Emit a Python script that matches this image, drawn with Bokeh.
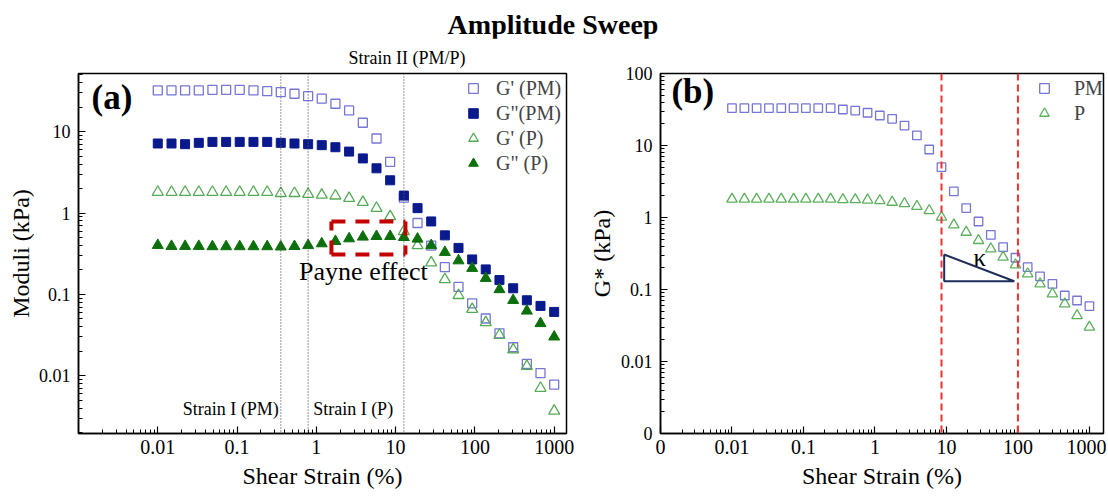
from bokeh.plotting import figure
from bokeh.models import (Range1d, FixedTicker, Span, Label, Legend, LegendItem, Div)
from bokeh.layouts import row, column
from bokeh.embed import file_html
from bokeh.resources import INLINE

# ---------------- data ----------------
strain = [0.01, 0.0149, 0.0221, 0.0329, 0.0489, 0.0728, 0.108, 0.161, 0.240, 0.356,
          0.530, 0.788, 1.17, 1.74, 2.59, 3.86, 5.74, 8.53, 12.7, 18.9,
          28.1, 41.8, 62.1, 92.4, 137, 204, 304, 452, 672, 1000]

g1_pm = [32.2, 32.2, 32.2, 32.2, 32.8, 32.8, 32.8, 32.2, 31.5, 30.7,
         29.3, 27.4, 25.5, 22.1, 18.3, 12.9, 8.26, 4.27, 1.55, 0.755,
         0.398, 0.216, 0.124, 0.0778, 0.0506, 0.0332, 0.0224, 0.0140, 0.0108, 0.0078]
g2_pm = [7.17, 7.17, 7.03, 7.30, 7.50, 7.50, 7.50, 7.50, 7.50, 7.30,
         7.17, 7.03, 6.84, 6.45, 5.70, 4.70, 3.55, 2.53, 1.64, 1.15,
         0.789, 0.532, 0.373, 0.269, 0.203, 0.150, 0.119, 0.0847, 0.0722, 0.0609]
g1_p = [1.81, 1.81, 1.81, 1.81, 1.81, 1.81, 1.81, 1.81, 1.81, 1.75,
        1.75, 1.71, 1.67, 1.63, 1.52, 1.36, 1.15, 0.91, 0.596, 0.40,
        0.245, 0.153, 0.0975, 0.0658, 0.0452, 0.0316, 0.0209, 0.0131, 0.00705, 0.00369]
g2_p = [0.402, 0.391, 0.391, 0.391, 0.388, 0.388, 0.388, 0.388, 0.388, 0.385,
        0.39, 0.40, 0.421, 0.45, 0.485, 0.509, 0.518, 0.518, 0.503, 0.481,
        0.40, 0.330, 0.260, 0.210, 0.158, 0.115, 0.0847, 0.0627, 0.044, 0.0301]

gstar_pm = [33.0, 33.0, 33.0, 33.0, 33.0, 33.0, 33.0, 33.0, 33.0, 31.6,
            30.6, 28.5, 26.1, 23.5, 18.9, 13.8, 8.8, 5.0, 2.30, 1.35,
            0.88, 0.575, 0.387, 0.276, 0.204, 0.152, 0.120, 0.0826, 0.0703, 0.0586]
gstar_p = [1.80, 1.80, 1.80, 1.80, 1.80, 1.80, 1.80, 1.80, 1.80, 1.77,
           1.77, 1.75, 1.72, 1.63, 1.56, 1.43, 1.25, 1.01, 0.79, 0.625,
           0.48, 0.367, 0.281, 0.22, 0.165, 0.12, 0.087, 0.0633, 0.0435, 0.030]

strain_limits = [0.356, 0.788, 12.7]          # Strain I (PM), Strain I (P), Strain II
payne_x = [1.55, 13.3]
payne_y = [0.309, 0.79]
red_lines = [8.53, 100]
kappa_x = [9.3, 89]
kappa_y = [0.130, 0.306]

x_ticks_a = [0.01, 0.1, 1, 10, 100, 1000]
x_labels_a = ["0.01", "0.1", "1", "10", "100", "1000"]
y_ticks_a = [0.01, 0.1, 1, 10]
y_labels_a = ["0.01", "0.1", "1", "10"]
x_ticks_b = [0.001, 0.01, 0.1, 1, 10, 100, 1000]
x_labels_b = ["0", "0.01", "0.1", "1", "10", "100", "1000"]
y_ticks_b = [0.001, 0.01, 0.1, 1, 10, 100]
y_labels_b = ["0", "0.01", "0.1", "1", "10", "100"]

SERIF = "Liberation Serif"
C_PM_OPEN = "#7676D6"
C_PM_FILL = "#0A1A8C"
C_P_OPEN = "#55AA55"
C_P_FILL = "#0B700B"

minor = [m * 10.0 ** d for d in range(-4, 4) for m in range(2, 10)]


def style_axes(p, xt, xl, yt, yl, ylabel):
    p.xgrid.visible = False
    p.ygrid.visible = False
    p.outline_line_color = "black"
    p.outline_line_width = 1.5
    p.xaxis.ticker = FixedTicker(ticks=xt, minor_ticks=minor)
    p.yaxis.ticker = FixedTicker(ticks=yt, minor_ticks=minor)
    p.xaxis.major_label_overrides = {t: l for t, l in zip(xt, xl)}
    p.yaxis.major_label_overrides = {t: l for t, l in zip(yt, yl)}
    for ax in (p.xaxis[0], p.yaxis[0]):
        ax.axis_line_color = "black"
        ax.axis_line_width = 1.5
        ax.major_tick_in = 7
        ax.major_tick_out = 0
        ax.minor_tick_in = 4
        ax.minor_tick_out = 0
        ax.major_tick_line_color = "black"
        ax.minor_tick_line_color = "black"
        ax.major_tick_line_width = 1.2
        ax.minor_tick_line_width = 1.0
        ax.major_label_text_font = SERIF
        ax.major_label_text_color = "black"
        ax.axis_label_text_font = SERIF
        ax.axis_label_text_font_size = "24px"
        ax.axis_label_text_font_style = "normal"
        ax.axis_label_text_color = "black"
    p.xaxis.major_label_text_font_size = "20px"
    p.yaxis.major_label_text_font_size = "18px"
    p.xaxis.axis_label = "Shear Strain (%)"
    p.yaxis.axis_label = ylabel
    p.xaxis.major_label_standoff = 6
    p.xaxis.axis_label_standoff = 6


# ---------------- panel (a) ----------------
p1 = figure(width=585, height=458, x_axis_type="log", y_axis_type="log",
            x_range=Range1d(0.001, 1430), y_range=Range1d(0.00195, 52),
            output_backend="svg", toolbar_location=None,
            min_border_left=78, min_border_right=19, min_border_top=35, min_border_bottom=63)
style_axes(p1, x_ticks_a, x_labels_a, y_ticks_a, y_labels_a, "Moduli (kPa)")
p1.yaxis.major_label_standoff = 8
p1.yaxis.axis_label_standoff = 2

p1.title.text = "Strain II (PM/P)"
p1.title.align = "left"
p1.title.offset = 270
p1.title.text_font = SERIF
p1.title.text_font_size = "18px"
p1.title.text_font_style = "normal"
p1.title.text_color = "black"
p1.title.standoff = 12

for xv in strain_limits:
    p1.add_layout(Span(location=xv, dimension="height", line_color="#555555",
                       line_dash="1 2", line_width=1.2))

r1 = p1.scatter(strain, g1_pm, marker="square", size=9, fill_color=None,
                line_color=C_PM_OPEN, line_width=1.3)
r2 = p1.scatter(strain, g2_pm, marker="square", size=9, fill_color=C_PM_FILL,
                line_color=C_PM_FILL)
r3 = p1.scatter(strain, g1_p, marker="triangle", size=11, fill_color=None,
                line_color=C_P_OPEN, line_width=1.3)
r4 = p1.scatter(strain, g2_p, marker="triangle", size=11, fill_color=C_P_FILL,
                line_color=C_P_FILL)

# Payne-effect box: each side drawn separately so every corner starts with a dash
x0, x1 = payne_x
y0, y1 = payne_y
p1.multi_line(xs=[[x0, x1], [x1, x1], [x0, x1], [x0, x0]],
              ys=[[y1, y1], [y1, y0], [y0, y0], [y0, y1]],
              line_color="#C40000", line_width=4, line_dash="14 10")

p1.add_layout(Label(x=3.93, y=0.191, text="Payne effect", text_font=SERIF,
                    text_font_size="26px", text_align="center", text_baseline="middle",
                    text_color="black"))
p1.add_layout(Label(x=strain_limits[0], y=0.00395, x_offset=-2, text="Strain I (PM)",
                    text_font=SERIF, text_font_size="18px", text_align="right",
                    text_baseline="middle", text_color="black"))
p1.add_layout(Label(x=strain_limits[1], y=0.00395, x_offset=5, text="Strain I (P)",
                    text_font=SERIF, text_font_size="18px", text_align="left",
                    text_baseline="middle", text_color="black"))
p1.add_layout(Label(x=0.00146, y=26.0, text="(a)", text_font=SERIF,
                    text_font_size="35px", text_font_style="bold", text_align="left",
                    text_baseline="middle", text_color="black"))

leg1 = Legend(items=[LegendItem(label="G' (PM)", renderers=[r1]),
                     LegendItem(label='G"(PM)', renderers=[r2]),
                     LegendItem(label="G' (P)", renderers=[r3]),
                     LegendItem(label='G" (P)', renderers=[r4])],
              location=(383, 258), glyph_width=24, glyph_height=24, label_height=24,
              spacing=1, padding=0, margin=0, label_standoff=11,
              label_text_font=SERIF, label_text_font_size="20px",
              background_fill_alpha=0, border_line_alpha=0)
p1.add_layout(leg1)

# ---------------- panel (b) ----------------
p2 = figure(width=521, height=458, x_axis_type="log", y_axis_type="log",
            x_range=Range1d(0.001, 1575), y_range=Range1d(0.001, 100),
            output_backend="svg", toolbar_location=None,
            min_border_left=72, min_border_right=3, min_border_top=35, min_border_bottom=63)
style_axes(p2, x_ticks_b, x_labels_b, y_ticks_b, y_labels_b, "G* (kPa)")
p2.yaxis.major_label_standoff = 8
p2.yaxis.axis_label_standoff = 3

for xv in red_lines:
    p2.add_layout(Span(location=xv, dimension="height", line_color="#F03030",
                       line_dash="7 4", line_width=2))

q1 = p2.scatter(strain, gstar_pm, marker="square", size=8.5, fill_color=None,
                line_color=C_PM_OPEN, line_width=1.3)
q2 = p2.scatter(strain, gstar_p, marker="triangle", size=10.5, fill_color=None,
                line_color="#5CB05C", line_width=1.3)

p2.line([kappa_x[0], kappa_x[0], kappa_x[1], kappa_x[0]],
        [kappa_y[1], kappa_y[0], kappa_y[0], kappa_y[1]],
        line_color="#1F2D5C", line_width=2)
p2.add_layout(Label(x=29.4, y=0.274, text="κ", text_font=SERIF, text_font_size="25px",
                    text_align="center", text_baseline="middle", text_color="black"))
p2.add_layout(Label(x=0.00142, y=56, text="(b)", text_font=SERIF,
                    text_font_size="35px", text_font_style="bold", text_align="left",
                    text_baseline="middle", text_color="black"))

leg2 = Legend(items=[LegendItem(label="PM", renderers=[q1]),
                     LegendItem(label="P", renderers=[q2])],
              location=(372, 308), glyph_width=24, glyph_height=24, label_height=24,
              spacing=1, padding=0, margin=0, label_standoff=18,
              label_text_font=SERIF, label_text_font_size="20px",
              background_fill_alpha=0, border_line_alpha=0)
p2.add_layout(leg2)

title = Div(text='<div style="width:1096px;padding-left:10px;text-align:center;'
                 'font-family:\'Liberation Serif\';font-weight:bold;font-size:28px;'
                 'line-height:26px;padding-top:12px;color:black;">Amplitude Sweep</div>',
            width=1106, height=38, margin=(0, 0, 0, 0))

layout = column(title, row(p1, p2, spacing=0), spacing=0)

open("out.html", "w").write(file_html(layout, INLINE))
